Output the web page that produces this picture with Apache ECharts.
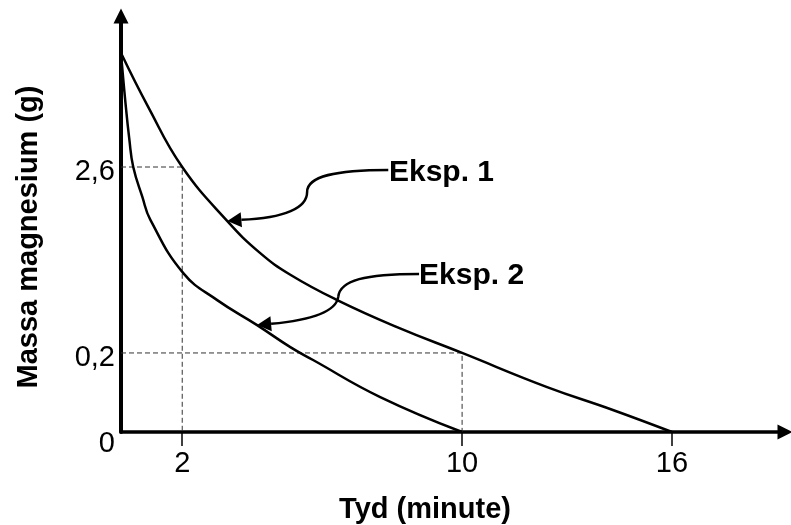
<!DOCTYPE html>
<html>
<head>
<meta charset="utf-8">
<title>Massa magnesium teen tyd</title>
<script src="https://cdn.jsdelivr.net/npm/echarts@6/dist/echarts.min.js"></script>
<style>
  html, body { margin: 0; padding: 0; background: #fff; }
  #chart { width: 791px; height: 525px; }
</style>
</head>
<body>
<div id="chart"></div>
<script>
// the sketch is not to scale on the mass axis, so y is a sketch height (0-100)
// and the book's labels sit at the heights where they are drawn
const xTicks = [2, 10, 16]
const yTickLabels = ['0', '0,2', '2,6']
const yTickPos = [0, 19.0, 63.7]

// [minute, sketch height]
const eksp1 = [
  [0.25, 91.1], [1.03, 78.1], [2, 63.7], [3.29, 50.7], [4.23, 43.0],
  [5.09, 37.8], [6.43, 31.7], [8.14, 25.2], [10, 19.0], [12.43, 10.8],
  [14.31, 5.3], [16, 0]
]
const eksp2 = [
  [0.25, 91.1], [0.37, 79.8], [0.49, 70.2], [0.6, 63.7], [0.86, 56.5],
  [1.09, 51.0], [2.03, 38.2], [3, 31.7], [4.14, 25.7], [5.09, 20.4],
  [5.74, 17.3], [7.66, 8.4], [10, 0]
]

// dashed read-offs: [minute, mass label]
const guides = [[2, '2,6'], [10, '0,2']]

// callouts: start at the label, two cubic pieces, end at the arrow base
const arrow1Path = [[7.89, 63.0], [6.37, 63.0], [5.57, 61.5], [5.57, 57.7], [5.57, 53.9], [4.94, 51.4], [3.69, 51.0]]
const arrow1Tip = [3.29, 50.7]
const arrow2Path = [[8.77, 38.0], [7.23, 38.0], [6.51, 36.5], [6.46, 32.5], [6.40, 28.9], [5.66, 26.9], [4.54, 26.0]]
const arrow2Tip = [4.14, 25.7]
const label1Pos = [7.91, 62.3]
const label2Pos = [8.77, 37.5]

const X_MIN = 0.25
const X_MAX = 19.23
const font = '"Liberation Sans", Arial, sans-serif'

function yOf (lbl) {
  return yTickPos[yTickLabels.indexOf(lbl)]
}

function guideLine (g) {
  let y = yOf(g[1])
  return [[X_MIN, y], [g[0], y], [g[0], 0]]
}

let chart = echarts.init(document.getElementById('chart'))

let option = {
  animation: false,
  grid: { left: 121, right: 6, top: 16, bottom: 93, outerBoundsMode: 'none' },
  xAxis: {
    type: 'value',
    min: X_MIN,
    max: X_MAX,
    name: 'Tyd (minute)',
    nameLocation: 'middle',
    nameGap: 63,
    nameTextStyle: { fontFamily: font, fontSize: 29, fontWeight: 'bold', color: '#000', padding: [0, 56, 0, 0] },
    axisLine: {
      onZero: false,
      symbol: ['none', 'triangle'],
      symbolSize: [15, 15],
      lineStyle: { color: '#000', width: 3.5 }
    },
    axisTick: { customValues: xTicks, length: 14, lineStyle: { color: '#000', width: 1.5 } },
    axisLabel: { customValues: xTicks, margin: 17, fontFamily: font, fontSize: 29, color: '#000' },
    splitLine: { show: false }
  },
  yAxis: {
    type: 'value',
    min: 0,
    max: 100,
    name: 'Massa magnesium (g)',
    nameLocation: 'middle',
    nameGap: 78,
    nameTextStyle: { fontFamily: font, fontSize: 29, fontWeight: 'bold', color: '#000', padding: [0, 26, 0, 0] },
    axisLine: {
      onZero: false,
      symbol: ['none', 'triangle'],
      symbolSize: [15, 15],
      lineStyle: { color: '#000', width: 4 }
    },
    axisTick: { show: false },
    axisLabel: {
      customValues: yTickPos,
      margin: 6,
      fontFamily: font,
      fontSize: 29,
      color: '#000',
      formatter: function (v) {
        let best = 0
        for (let i = 1; i < yTickPos.length; i++) {
          if (Math.abs(yTickPos[i] - v) < Math.abs(yTickPos[best] - v)) best = i
        }
        // the 0 sits below the corner in the sketch
        return best === 0 ? '{low|' + yTickLabels[best] + '}' : '{mid|' + yTickLabels[best] + '}'
      },
      rich: {
        low: { fontFamily: font, fontSize: 29, color: '#000', padding: [24, 0, 0, 0] },
        mid: { fontFamily: font, fontSize: 29, color: '#000', padding: [10, 0, 0, 0] }
      }
    },
    splitLine: { show: false }
  },
  series: [
    {
      name: 'Eksp. 1',
      type: 'line',
      data: eksp1,
      smooth: 0.45,
      symbol: 'none',
      lineStyle: { color: '#000', width: 2.5 },
      z: 3
    },
    {
      name: 'Eksp. 2',
      type: 'line',
      data: eksp2,
      smooth: 0.45,
      symbol: 'none',
      lineStyle: { color: '#000', width: 2.5 },
      z: 3
    }
  ].concat(guides.map(function (g) {
    return {
      type: 'line',
      data: guideLine(g),
      symbol: 'none',
      silent: true,
      lineStyle: { color: '#333', width: 1, type: [5, 3] },
      z: 1
    }
  }))
}

chart.setOption(option)

function px (p) {
  return chart.convertToPixel({ gridIndex: 0 }, p)
}

function callout (path, tip) {
  let p = path.map(px)
  let t = px(tip)
  let b = p[6]
  let dx = t[0] - b[0]
  let dy = t[1] - b[1]
  let len = Math.sqrt(dx * dx + dy * dy)
  let nx = -dy / len * 7.5
  let ny = dx / len * 7.5
  let stroke = { stroke: '#000', lineWidth: 2.5, fill: null }
  return [
    {
      type: 'bezierCurve',
      shape: { x1: p[0][0], y1: p[0][1], cpx1: p[1][0], cpy1: p[1][1], cpx2: p[2][0], cpy2: p[2][1], x2: p[3][0], y2: p[3][1] },
      style: stroke
    },
    {
      type: 'bezierCurve',
      shape: { x1: p[3][0], y1: p[3][1], cpx1: p[4][0], cpy1: p[4][1], cpx2: p[5][0], cpy2: p[5][1], x2: b[0], y2: b[1] },
      style: stroke
    },
    {
      type: 'polygon',
      shape: { points: [t, [b[0] + nx, b[1] + ny], [b[0] - nx, b[1] - ny]] },
      style: { fill: '#000' }
    }
  ]
}

function label (text, pos) {
  let p = px(pos)
  return {
    type: 'text',
    x: p[0],
    y: p[1],
    style: { text: text, fontFamily: font, fontSize: 30, fontWeight: 'bold', fill: '#000', align: 'left', verticalAlign: 'middle' }
  }
}

chart.setOption({
  graphic: callout(arrow1Path, arrow1Tip)
    .concat(callout(arrow2Path, arrow2Tip))
    .concat([label('Eksp. 1', label1Pos), label('Eksp. 2', label2Pos)])
})

window.addEventListener('resize', function () {
  chart.resize()
})
</script>
</body>
</html>
